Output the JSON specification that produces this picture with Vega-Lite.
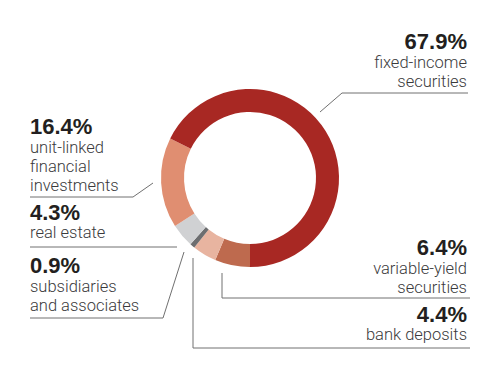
{
  "$schema": "https://vega.github.io/schema/vega-lite/v6.json",
  "width": 500,
  "height": 356,
  "autosize": {"type": "none"},
  "padding": 0,
  "background": "white",
  "config": {"view": {"stroke": null}},
  "datasets": {
    "shares": [
      {"category": "variable-yield securities", "share": 0.064, "rank": 1, "desc": "variable-yield\nsecurities", "side": "right", "lx": 467, "pctY": 255, "descY": 274},
      {"category": "bank deposits", "share": 0.044, "rank": 2, "desc": "bank deposits", "side": "right", "lx": 467, "pctY": 322, "descY": 340},
      {"category": "subsidiaries and associates", "share": 0.009, "rank": 3, "desc": "subsidiaries\nand associates", "side": "left", "lx": 30, "pctY": 273, "descY": 292},
      {"category": "real estate", "share": 0.043, "rank": 4, "desc": "real estate", "side": "left", "lx": 30, "pctY": 220, "descY": 238},
      {"category": "unit-linked financial investments", "share": 0.164, "rank": 5, "desc": "unit-linked\nfinancial\ninvestments", "side": "left", "lx": 30, "pctY": 134, "descY": 153},
      {"category": "fixed-income securities", "share": 0.679, "rank": 6, "desc": "fixed-income\nsecurities", "side": "right", "lx": 467, "pctY": 49, "descY": 68}
    ],
    "leaders": [
      {"seg": "fixed", "i": 1, "x": 468, "y": 93},
      {"seg": "fixed", "i": 2, "x": 342, "y": 93},
      {"seg": "fixed", "i": 3, "x": 320, "y": 112},
      {"seg": "unit", "i": 1, "x": 30, "y": 197},
      {"seg": "unit", "i": 2, "x": 133, "y": 197},
      {"seg": "unit", "i": 3, "x": 153, "y": 183},
      {"seg": "real", "i": 1, "x": 30, "y": 247},
      {"seg": "real", "i": 2, "x": 177, "y": 247},
      {"seg": "subs", "i": 1, "x": 30, "y": 318},
      {"seg": "subs", "i": 2, "x": 163, "y": 318},
      {"seg": "subs", "i": 3, "x": 184, "y": 252},
      {"seg": "vary", "i": 1, "x": 470, "y": 298},
      {"seg": "vary", "i": 2, "x": 222, "y": 298},
      {"seg": "vary", "i": 3, "x": 222, "y": 273},
      {"seg": "bank", "i": 1, "x": 470, "y": 348},
      {"seg": "bank", "i": 2, "x": 193, "y": 348},
      {"seg": "bank", "i": 3, "x": 193, "y": 258}
    ]
  },
  "layer": [
    {
      "data": {"name": "shares"},
      "mark": {"type": "arc", "innerRadius": 66, "outerRadius": 89},
      "encoding": {
        "theta": {"field": "share", "type": "quantitative", "stack": true, "scale": {"range": [3.14159265, 9.42477796]}},
        "order": {"field": "rank", "type": "quantitative"},
        "color": {
          "field": "category",
          "type": "nominal",
          "legend": null,
          "scale": {
            "domain": ["variable-yield securities", "bank deposits", "subsidiaries and associates", "real estate", "unit-linked financial investments", "fixed-income securities"],
            "range": ["#BE6A4E", "#E8B4A0", "#6D6E70", "#D0D1D3", "#E08E71", "#A82823"]
          }
        }
      }
    },
    {
      "data": {"name": "leaders"},
      "mark": {"type": "line", "stroke": "#707070", "strokeWidth": 1},
      "encoding": {
        "x": {"field": "x", "type": "quantitative", "scale": {"domain": [0, 500], "nice": false, "zero": false}, "axis": null},
        "y": {"field": "y", "type": "quantitative", "scale": {"domain": [0, 356], "nice": false, "zero": false, "reverse": true}, "axis": null},
        "detail": {"field": "seg"},
        "order": {"field": "i", "type": "quantitative"}
      }
    },
    {
      "data": {"name": "shares"},
      "transform": [{"filter": "datum.side === 'left'"}],
      "mark": {"type": "text", "align": "left", "baseline": "alphabetic", "font": "Liberation Sans", "fontWeight": "bold", "fontSize": 22, "fill": "#231F20"},
      "encoding": {
        "x": {"field": "lx", "type": "quantitative", "scale": {"domain": [0, 500], "nice": false, "zero": false}, "axis": null},
        "y": {"field": "pctY", "type": "quantitative", "scale": {"domain": [0, 356], "nice": false, "zero": false, "reverse": true}, "axis": null},
        "text": {"field": "share", "type": "quantitative", "format": ".1%"}
      }
    },
    {
      "data": {"name": "shares"},
      "transform": [{"filter": "datum.side === 'right'"}],
      "mark": {"type": "text", "align": "right", "baseline": "alphabetic", "font": "Liberation Sans", "fontWeight": "bold", "fontSize": 22, "fill": "#231F20"},
      "encoding": {
        "x": {"field": "lx", "type": "quantitative", "scale": {"domain": [0, 500], "nice": false, "zero": false}, "axis": null},
        "y": {"field": "pctY", "type": "quantitative", "scale": {"domain": [0, 356], "nice": false, "zero": false, "reverse": true}, "axis": null},
        "text": {"field": "share", "type": "quantitative", "format": ".1%"}
      }
    },
    {
      "data": {"name": "shares"},
      "transform": [{"filter": "datum.side === 'left'"}],
      "mark": {"type": "text", "align": "left", "baseline": "alphabetic", "font": "Roboto", "fontWeight": 300, "fontSize": 16.5, "lineBreak": "\n", "lineHeight": 19, "fill": "#3A3A3C"},
      "encoding": {
        "x": {"field": "lx", "type": "quantitative", "scale": {"domain": [0, 500], "nice": false, "zero": false}, "axis": null},
        "y": {"field": "descY", "type": "quantitative", "scale": {"domain": [0, 356], "nice": false, "zero": false, "reverse": true}, "axis": null},
        "text": {"field": "desc", "type": "nominal"}
      }
    },
    {
      "data": {"name": "shares"},
      "transform": [{"filter": "datum.side === 'right'"}],
      "mark": {"type": "text", "align": "right", "baseline": "alphabetic", "font": "Roboto", "fontWeight": 300, "fontSize": 16.5, "lineBreak": "\n", "lineHeight": 19, "fill": "#3A3A3C"},
      "encoding": {
        "x": {"field": "lx", "type": "quantitative", "scale": {"domain": [0, 500], "nice": false, "zero": false}, "axis": null},
        "y": {"field": "descY", "type": "quantitative", "scale": {"domain": [0, 356], "nice": false, "zero": false, "reverse": true}, "axis": null},
        "text": {"field": "desc", "type": "nominal"}
      }
    }
  ]
}
